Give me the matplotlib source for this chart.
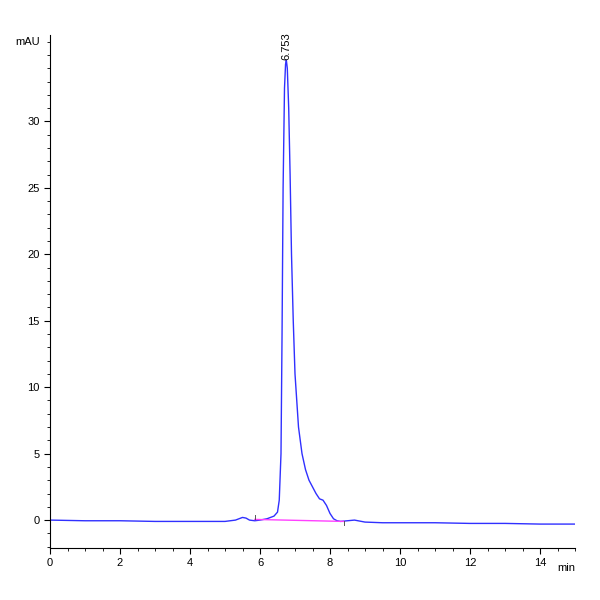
import matplotlib
matplotlib.use("Agg")
import matplotlib.pyplot as plt
import numpy as np
from matplotlib.ticker import MultipleLocator

time = [0, 1, 2, 3, 4, 5, 5.3, 5.5, 5.6, 5.7, 5.85, 6.0, 6.2, 6.4, 6.5, 6.55, 6.6, 6.63, 6.66, 6.7, 6.73, 6.753,
        6.78, 6.82, 6.86, 6.9, 6.95, 7.0, 7.1, 7.2, 7.3, 7.4, 7.5, 7.6, 7.7, 7.8, 7.9, 8.0, 8.1, 8.2, 8.3,
        8.5, 8.7, 9.0, 9.5, 10, 11, 12, 13, 14, 15]
signal = [0.0, -0.05, -0.05, -0.1, -0.1, -0.1, 0.0, 0.2, 0.15, 0.0, -0.05, 0.0, 0.1, 0.3, 0.6, 1.5, 5.0, 14.0, 25.0, 32.5, 34.3, 34.6,
          34.0, 31.0, 26.0, 20.0, 15.0, 11.0, 7.0, 5.0, 3.8, 3.0, 2.5, 2.0, 1.6, 1.5, 1.1, 0.5, 0.1, -0.05, -0.1,
          -0.05, 0.0, -0.15, -0.2, -0.2, -0.2, -0.25, -0.25, -0.3, -0.3]
base_t = [5.85, 8.4]
base_y = [0.05, -0.1]
y_ticks = [0, 5, 10, 15, 20, 25, 30]
x_ticks = [0, 2, 4, 6, 8, 10, 12, 14]

plt.rcParams['font.family'] = ['Liberation Sans', 'DejaVu Sans']
fig = plt.figure(figsize=(6, 6), dpi=100)
ax = fig.add_axes([50/600, 52/600, 525/600, 513/600])
ax.plot(time, signal, color='#3030ff', lw=1.0)
ax.plot(base_t, base_y, color='#ff40ff', lw=1.0)
ax.plot([base_t[0]]*2, [0.05, 0.35], color='#555555', lw=0.7)
ax.plot([base_t[1]]*2, [-0.1, -0.4], color='#555555', lw=0.7)
ax.set_xlim(0, 15)
ax.set_ylim(-2.1, 36.5)
for s in ['top', 'right']:
    ax.spines[s].set_visible(False)
ax.set_xticks(x_ticks)
ax.xaxis.set_minor_locator(MultipleLocator(0.5))
ax.set_yticks(y_ticks)
ax.yaxis.set_minor_locator(MultipleLocator(1))
ax.tick_params(labelsize=8, length=4)
ax.tick_params(which='minor', length=2)
ax.text(6.753, 34.6, '6.753', rotation=90, ha='center', va='bottom', fontsize=8)
ax.text(15, -3.6, 'min', ha='right', va='center', fontsize=8)
ax.text(-0.3, 36.0, 'mAU', ha='right', va='center', fontsize=8)
fig.savefig('out.png', dpi=100)
